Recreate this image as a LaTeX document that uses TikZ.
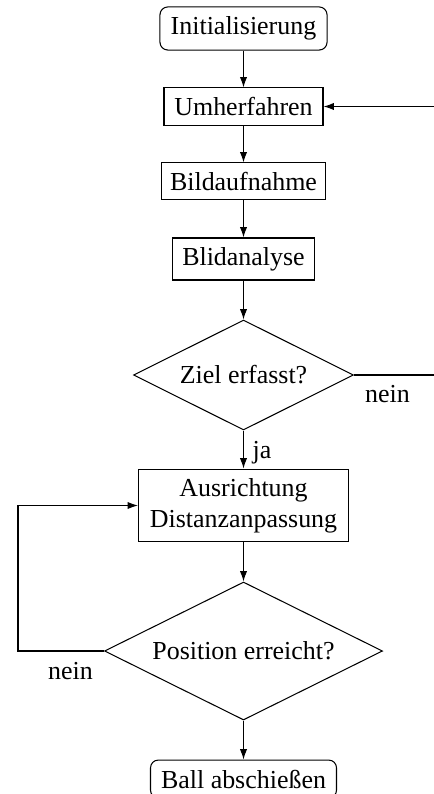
\documentclass[tikz,border=0pt]{standalone}
\usepackage{fontspec}
\setmainfont{Liberation Serif}
\usetikzlibrary{shapes.geometric,arrows.meta}
\begin{document}
\begin{tikzpicture}[x=0.3855pt,y=-0.3855pt,
  box/.style={draw,rectangle,inner sep=0pt,align=center},
  rbox/.style={draw,rectangle,rounded corners=3pt,inner sep=0pt},
  decision/.style={draw,diamond,aspect=2,inner sep=0pt},
  lbl/.style={inner sep=0pt,anchor=base},
  arr/.style={-{Latex[length=4pt,width=2.8pt]}}]
\useasboundingbox (0,0) rectangle (434,794);
\clip (0,0) rectangle (434,794);
\node[rbox,minimum width=64.4pt,minimum height=16.6pt] (init) at (243.5,28.5) {Initialisierung};
\node[box,minimum width=61.3pt,minimum height=14.3pt] (umher) at (243.5,106.5) {Umherfahren};
\node[box,minimum width=63.2pt,minimum height=13.9pt] (bild) at (243.5,181) {Bildaufnahme};
\node[box,minimum width=55.1pt,minimum height=16.2pt] (blid) at (243.5,259) {Blidanalyse};
\node[decision,minimum width=84.8pt,minimum height=42.4pt] (d1) at (243.5,375) {Ziel erfasst?};
\node[box,minimum width=81pt,minimum height=28.1pt] (aus) at (243.5,505.5) {Ausrichtung\\Distanzanpassung};
\node[decision,minimum width=107.2pt,minimum height=53.2pt] (d2) at (243.5,651) {Position erreicht?};
\node[rbox,minimum width=71.7pt,minimum height=14.6pt] (ball) at (243.5,779) {Ball abschießen};
\coordinate (r1) at (460,375);
\coordinate (l1) at (18,651);
\draw[arr] (init) -- (umher);
\draw[arr] (umher) -- (bild);
\draw[arr] (bild) -- (blid);
\draw[arr] (blid) -- (d1);
\draw[arr] (d1) -- (aus);
\draw[arr] (aus) -- (d2);
\draw[arr] (d2) -- (ball);
\draw[arr] (d1.east) -- (r1) |- (umher.east);
\draw[arr] (d2.west) -- (l1) |- (aus.west);
\node[lbl] (ja) at (262,458) {ja};
\node[lbl] (nein1) at (387.5,402) {nein};
\node[lbl] (nein2) at (70.5,679) {nein};
\end{tikzpicture}
\end{document}
